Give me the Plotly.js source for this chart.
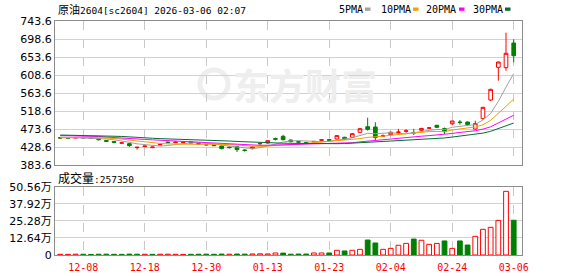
<!DOCTYPE html>
<html><head><meta charset="utf-8">
<script src="https://cdn.plot.ly/plotly-3.0.1.min.js"></script>
<style>html,body{margin:0;padding:0;background:#fff;overflow:hidden}#chart{width:578px;height:276px}</style>
</head><body><div id="chart"></div>
<script>
// ---------- data ----------
const dates = ['12-03','12-04','12-05','12-08','12-09','12-10','12-11','12-12','12-15','12-16','12-17','12-18','12-19','12-22','12-23','12-24','12-25','12-26','12-29','12-30','12-31','01-05','01-06','01-07','01-08','01-09','01-12','01-13','01-14','01-15','01-16','01-19','01-20','01-21','01-22','01-23','01-26','01-27','01-28','01-29','01-30','02-02','02-03','02-04','02-05','02-06','02-09','02-10','02-11','02-12','02-13','02-24','02-25','02-26','02-27','03-02','03-03','03-04','03-05','03-06'];
const openP = [452,451.5,451,452,452,449,445,442,438,437,427,429.5,427,433.5,441,439.5,439.5,441.5,437,435,434,431,428.5,429.5,421,424.4,436.5,438.6,449.5,455.3,446,442,440,441.5,445.5,447,448.6,452.9,452.9,465.4,479.4,478.6,456,459.4,465,468,465,470.4,475.5,482.8,475,486.9,491,491.1,473.6,499.4,546.1,627.8,626.9,688.6];
const highP = [453,453,453,453,453,450,446,443,440,438,428.5,432,429,436,442,442,442,442,438,436,435,432,430,430,423,430,440,446,452,459,447,444,441,444,447.5,449,458,454,463,476,501.9,490.4,460,467,474,473,474,476.5,478,484,477,494.5,496,492,494.4,529,574,642,714.4,697.9];
const lowP = [449,450,450.5,450,449,445,441,438,437,429,422,428,426,433,438,438.5,439,438,434,432,431,423,425,416,417,423,434,437,445,445,440,438,436,440,444,444,447,446,451,464,469.4,446,454,458,459.4,464,458.6,469,474,477,461,482.8,484.4,483,472,497,543.6,594.4,619.4,640.4];
const closeP = [451,451,452,451.5,450.5,447,443,440.5,439,432,428,431,428.5,435,439.5,441,441,439,436,434,432,424.5,427,422,420,428.6,437.5,444.4,448,447,442,441,437.5,442.5,446.5,445.5,457,447.8,461.9,474.4,472.8,452,456.5,465.4,466,469,464,475,476.5,477.8,467,493.6,490,484.4,487,527.8,572.8,641.1,662.8,656.9];
const ma5 = [453,452.5,452,451.5,451.2,450.4,448.8,446.5,444,440.3,436.5,434.1,431.7,430.9,432.4,435,437,439.1,439.3,438.2,436.4,433.1,430.7,427.9,425.1,424.4,427,430.5,435.7,441.1,443.8,444.5,443.1,442,441.9,442.6,445.8,447.9,451.7,457.3,462.8,461.8,463.5,464.2,462.5,461.8,464.2,467.9,470.1,472.5,472.1,478,481,482.6,484.4,496.6,512.4,542.6,578.3,612.3];
const ma10 = [451.5,452,452.5,452.5,452.5,452,451,450,448.5,445.8,443.5,441.5,439.1,437.5,436.4,435.8,435.6,435.4,435.1,435.3,435.7,435.1,434.9,433.6,431.7,430.4,430.1,430.6,431.8,433.1,434.1,435.8,436.8,438.9,441.5,443.2,445.1,445.5,446.9,449.6,452.7,453.8,455.7,458,459.9,462.3,463,465.7,467.2,467.5,466.9,471.1,474.4,476.3,478.4,484.3,495.2,511.8,530.4,548.3];
const ma20 = [457,456.8,456.5,456,455.5,455,453.5,452,450.5,449.5,448.5,447.5,446.5,445.5,445,444.3,443.5,442.5,441.5,440.5,439.6,438.3,437,435.5,434,433.1,432.8,433,433.5,434.2,434.9,435.4,435.9,436.2,436.6,436.8,437.6,438,439.3,441.4,443.4,444.8,446.2,448.4,450.7,452.7,454.1,455.6,457,458.6,459.8,462.4,465.1,467.2,469.2,473.3,479.1,488.8,498.8,507.9];
const ma30 = [458.5,458.3,458,457.7,457.3,457,456,455.5,455,453.5,452.5,451.5,450.5,449.5,449,448.5,448,447.5,447,446,445,444,443.5,442.5,441.5,440.5,439.5,439,438.5,438.1,437.8,437.4,436.9,436.6,436.5,436.5,436.9,437.2,437.9,439.3,440.8,441.5,442.5,443.5,444.4,445.3,446.1,447.3,448.6,450.1,451.2,453.5,455.6,457.7,460,463.3,467.8,474.3,481.5,488.5];
const volume = [5200,4800,6100,5500,4300,5800,6200,5000,4700,6600,5900,5300,4900,5600,6000,5100,4500,5200,5800,6300,5400,6800,5700,7200,6400,7600,8800,8000,15000,14000,6000,7000,7000,15000,15000,15000,35000,30000,35000,42000,111000,89000,42000,49000,72000,86000,118000,109000,79000,86000,104000,49000,104000,74000,138000,190000,205000,256000,471000,257350];
const priceTicks = [383.6,428.6,473.6,518.6,563.6,608.6,653.6,698.6,743.6];
const volTickVals = [0,126400,252800,379200,505600];
const volTickText = ['0','12.64万','25.28万','37.92万','50.56万'];
const xTickLabels = ['12-08','12-18','12-30','01-13','01-23','02-04','02-24','03-06'];
const maNames = ['5PMA','10PMA','20PMA','30PMA'];
const titleName = '原油';
const titleCode = '2604[sc2604] 2026-03-06 02:07';
const volCaption = '成交量';
const volLast = '257350';
const watermark = '东方财富';

// ---------- styles ----------
const RED = '#ff0000', GREEN = '#008000';
const maColors = ['#a0a0a0','#f0a000','#ff00ff','#006f30'];
const L = 55, R = 522, T = 21, B = 255;
const px = x => (x - L) / (R - L);
const py = y => (B - y) / (B - T);
const mono = 'DejaVu Sans Mono, Liberation Mono, monospace';
const cjk = 'Noto Sans CJK SC';

const volColors = volume.map((v, i) => (i === 0 || closeP[i] >= closeP[i-1]) ? RED : GREEN);

const traces = [
  {type:'candlestick', x:dates, open:openP, high:highP, low:lowP, close:closeP,
   xaxis:'x', yaxis:'y', whiskerwidth:0,
   increasing:{line:{color:RED,width:1}, fillcolor:'#ffffff'},
   decreasing:{line:{color:GREEN,width:1}, fillcolor:GREEN},
   hoverinfo:'skip'}
];
[ma5, ma10, ma20, ma30].forEach((m, k) => traces.push({
  type:'scatter', mode:'lines', x:dates, y:m, xaxis:'x', yaxis:'y',
  line:{color:maColors[k], width:1}, hoverinfo:'skip'}));
traces.push({type:'bar', x:dates, y:volume, xaxis:'x2', yaxis:'y2',
  marker:{color:volColors.map(c => c === RED ? '#ffffff' : GREEN), line:{color:volColors, width:1}},
  hoverinfo:'skip'});

const annotations = [
  {xref:'paper', yref:'paper', x:px(305), y:py(84), xanchor:'center', yanchor:'middle', showarrow:false,
   text:'<b>' + watermark + '</b>', font:{family:cjk, size:36, color:'#eeeeee'}},
  {xref:'paper', yref:'paper', x:px(56), y:py(9.5), xanchor:'left', yanchor:'middle', showarrow:false,
   text:'<span style="font-family:\'Noto Sans CJK SC\';font-size:11px">' + titleName + '</span>' + titleCode,
   font:{family:mono, size:9.5, color:'#000'}},
  {xref:'paper', yref:'paper', x:px(56), y:py(177), xanchor:'left', yanchor:'middle', showarrow:false,
   text:'<span style="font-family:\'Noto Sans CJK SC\';font-size:12px">' + volCaption + '</span>:' + volLast,
   font:{family:mono, size:9.5, color:'#000'}}
];
const legendX = [337, 379, 424, 471];
const squareX = [365, 413, 459, 505];
const shapes = [
  {type:'circle', xref:'paper', yref:'paper', x0:px(200), x1:px(228), y0:py(98), y1:py(70),
   line:{color:'#eeeeee', width:5}, layer:'below'}
];
maNames.forEach((n, k) => {
  annotations.push({xref:'paper', yref:'paper', x:px(legendX[k]), y:py(9.5), xanchor:'left', yanchor:'middle',
    showarrow:false, text:n, font:{family:mono, size:10, color:'#000'}});
  shapes.push({type:'rect', xref:'paper', yref:'paper', x0:px(squareX[k]), x1:px(squareX[k]+5.5),
    y0:py(10.8), y1:py(7.5), fillcolor:maColors[k], line:{width:0}});
});

const gridCommonX = {type:'category', range:[-0.68, 60.08], tickmode:'array', tickvals:xTickLabels,
  showgrid:true, gridcolor:'#c8c8c8', griddash:'dash', gridwidth:1, showline:true, linecolor:'#8c8c8c',
  linewidth:1, mirror:true, ticks:'', zeroline:false, fixedrange:true};

const layout = {
  width:578, height:276, margin:{l:L, r:578-R, t:T, b:276-B, pad:0},
  paper_bgcolor:'#ffffff', plot_bgcolor:'rgba(0,0,0,0)', showlegend:false,
  boxgap:0.32, bargap:0.38,
  font:{family:'DejaVu Sans, ' + cjk, size:11, color:'#000'},
  xaxis:Object.assign({}, gridCommonX, {anchor:'y', showticklabels:false, rangeslider:{visible:false}}),
  yaxis:{domain:[py(165), 1], range:[383.6, 743.6], tickmode:'array', tickvals:priceTicks,
    ticktext:priceTicks.map(v => v.toFixed(1)), showgrid:true, gridcolor:'#d2d2d2', gridwidth:1,
    showline:true, linecolor:'#8c8c8c', mirror:true, ticks:'', zeroline:false, fixedrange:true,
    tickfont:{family:'DejaVu Sans', size:11, color:'#000'}},
  xaxis2:Object.assign({}, gridCommonX, {anchor:'y2', showticklabels:true,
    tickfont:{family:mono, size:10, color:RED}, ticklabelstandoff:3}),
  yaxis2:{domain:[0, py(186.7)], range:[0, 505600], tickmode:'array', tickvals:volTickVals, ticktext:volTickText,
    showgrid:true, gridcolor:'#d2d2d2', gridwidth:1, showline:true, linecolor:'#8c8c8c', mirror:true,
    ticks:'', zeroline:false, fixedrange:true,
    tickfont:{family:'DejaVu Sans, ' + cjk, size:11, color:'#000'}},
  annotations:annotations, shapes:shapes
};
Plotly.newPlot('chart', traces, layout, {staticPlot:true, displayModeBar:false});
</script>
</body></html>
